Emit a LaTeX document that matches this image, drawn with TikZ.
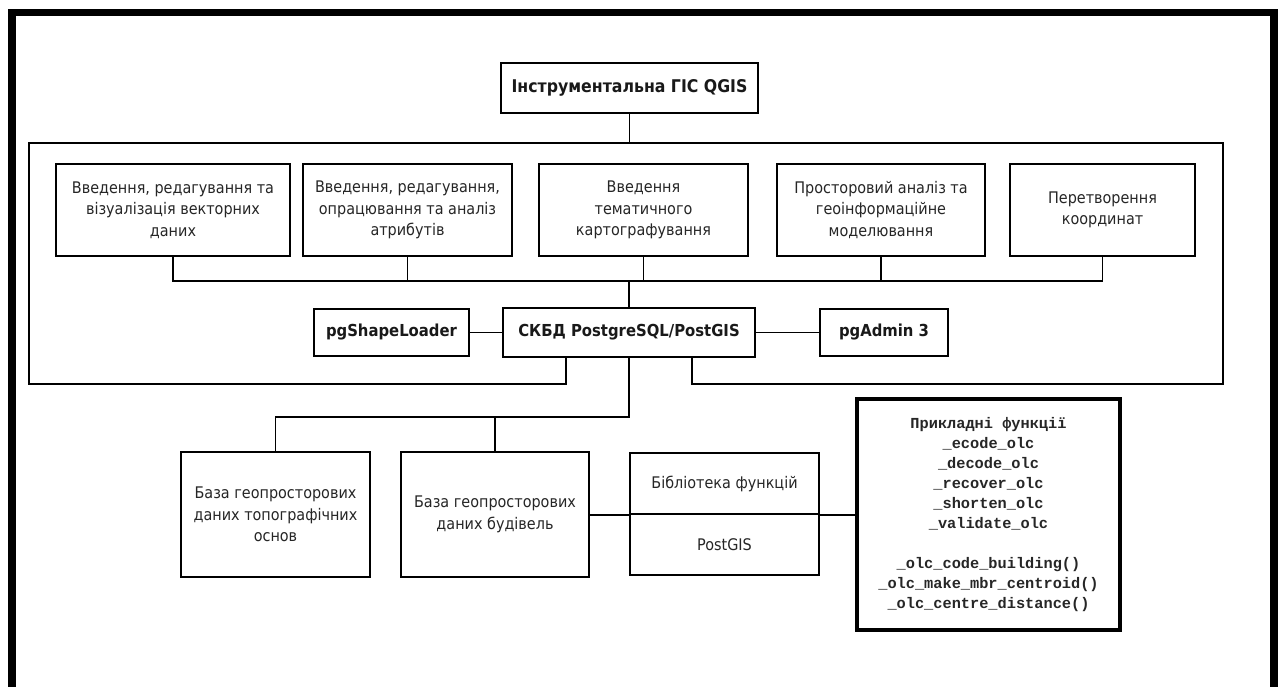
\documentclass[tikz,border=0pt]{standalone}
\usepackage{fontspec}
\setmainfont[FakeStretch=0.9]{DejaVu Sans}
\newfontfamily\codefont{Liberation Mono}
\begin{document}
\begin{tikzpicture}[x=1pt,y=-1pt,
  box/.style={draw=black, line width=1.8pt, inner sep=0pt, align=center,
    text=black!85, font=\fontsize{16}{21.5}\selectfont},
  bbox/.style={box, text=black!90, font=\fontsize{16.5}{20}\selectfont\bfseries},
  fbox/.style={draw=black, line width=3.6pt, inner sep=0pt, align=center,
    text=black!85, font=\codefont\bfseries\fontsize{15.3}{20}\selectfont},
  conn/.style={draw=black, line width=1.8pt}]
\useasboundingbox (0,0) rectangle (1279,686);
\clip (0,0) rectangle (1279,686);
\fill[white] (0,0) rectangle (1279,686);
% outer frame
\draw[line width=7.5pt] (11.75,700) -- (11.75,12.25) -- (1274,12.25) -- (1274,700);

% top
\node[bbox, font=\fontsize{17.5}{20}\selectfont\bfseries, minimum width=257, minimum height=50] (qgis) at (629.5,88) {Інструментальна ГІС QGIS};
\coordinate (ctop) at (629.5,143);
\draw[conn] (qgis.south) -- (ctop);

% row of function boxes
\node[box, minimum width=234, minimum height=92] (b1) at (173,210)
  {Введення, редагування та\\візуалізація векторних\\даних};
\node[box, minimum width=209, minimum height=92] (b2) at (407.5,210)
  {Введення, редагування,\\опрацювання та аналіз\\атрибутів};
\node[box, minimum width=209, minimum height=92] (b3) at (643.5,210)
  {Введення\\тематичного\\картографування};
\node[box, minimum width=208, minimum height=92] (b4) at (881,210)
  {Просторовий аналіз та\\геоінформаційне\\моделювання};
\node[box, minimum width=185, minimum height=92] (b5) at (1102.5,210)
  {Перетворення\\координат};

% DBMS row
\node[bbox, minimum width=252, minimum height=49] (db) at (629,332.5) {СКБД PostgreSQL/PostGIS};
\node[bbox, minimum width=155, minimum height=47] (psl) at (391.5,332.5) {pgShapeLoader};
\node[bbox, minimum width=128, minimum height=47] (pga) at (884,332.5) {pgAdmin 3};

\coordinate (bus) at (629,281);
\draw[conn] (b1.south) |- (b5.south |- bus) -- (b5.south);
\draw[conn] (b2.south) -- (b2.south |- bus);
\draw[conn] (b3.south) -- (b3.south |- bus);
\draw[conn] (b4.south) -- (b4.south |- bus);
\draw[conn] (bus) -- (db.north);
\draw[conn] (psl) -- (db);
\draw[conn] (db) -- (pga);

% container
\coordinate (cl) at (566,384);
\coordinate (cr) at (692,384);
\draw[conn] (db.south -| cl) -- (cl) -- (29,384) -- (29,143) -- (1223,143) -- (1223,384) -- (cr) -- (db.south -| cr);

% bottom part
\node[box, minimum width=189, minimum height=125] (topo) at (275.5,514.5)
  {База геопросторових\\даних топографічних\\основ};
\node[box, minimum width=188, minimum height=125] (bud) at (495,514.5)
  {База геопросторових\\даних будівель};
\node[box, minimum width=189, minimum height=61] (libt) at (724.5,483.5) {Бібліотека функцій};
\node[box, minimum width=189, minimum height=61] (libb) at (724.5,544.5) {PostGIS};
\node[fbox, minimum width=263, minimum height=231] (fn) at (988.5,514.5)
  {Прикладні функції\\\_ecode\_olc\\\_decode\_olc\\\_recover\_olc\\\_shorten\_olc\\\_validate\_olc\\\mbox{}\\\_olc\_code\_building()\\\_olc\_make\_mbr\_centroid()\\\_olc\_centre\_distance()};

\coordinate (bbus) at (629,417);
\draw[conn] (db.south) -- (bbus) -| (topo.north);
\draw[conn] (bud.north) -- (bud.north |- bbus);
\draw[conn] (bud.east |- libt.south) -- (libt.south west);
\draw[conn] (libt.south east) -- (fn.west |- libt.south);
\end{tikzpicture}
\end{document}
